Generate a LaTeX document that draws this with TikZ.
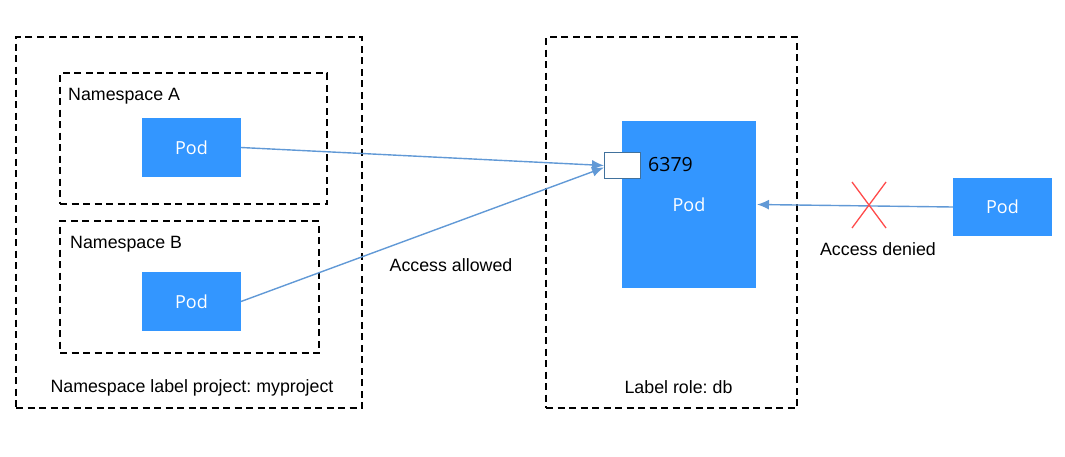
\documentclass[tikz,border=0pt]{standalone}
\usepackage{fontspec}
\setmainfont{Liberation Sans}
\newfontfamily\podfont{Open Sans}
\usetikzlibrary{arrows.meta,calc}
\definecolor{podblue}{HTML}{3396FF}
\definecolor{arrblue}{HTML}{6199D6}
\definecolor{portedge}{HTML}{41719C}
\definecolor{xred}{HTML}{FF4B4B}
\tikzset{
  dbox/.style={draw=black, line width=1.4pt, dash pattern=on 7pt off 4.5pt, rectangle, inner sep=0pt, outer sep=0pt},
  podbox/.style={fill=podblue, draw=none, rectangle, inner sep=0pt, outer sep=0pt, text=white, font=\podfont\fontsize{18}{20}\selectfont},
  lbl/.style={inner sep=0pt, font=\fontsize{17.8}{20}\selectfont},
  arr/.style={draw=arrblue, line width=1.4pt, -{Latex[length=12pt,width=10pt]}},
}
\begin{document}
\frenchspacing
\begin{tikzpicture}[x=1pt,y=-1pt]
\useasboundingbox (0,0) rectangle (1065,456);
% left outer
\node[dbox, minimum width=346, minimum height=371] (outer) at (189,222.5) {};
\node[dbox, minimum width=267, minimum height=131] (nsA) at (193.5,138.5) {};
\node[dbox, minimum width=259, minimum height=132] (nsB) at (189.5,287) {};
\node[lbl, anchor=base west] (nsAlbl) at (68,100) {Namespace A};
\node[lbl, anchor=base west] (nsBlbl) at (70,248) {Namespace B};
\node[lbl, anchor=base] (projlbl) at (192,392.5) {Namespace label project: myproject};
\node[podbox, minimum width=99, minimum height=59] (podA) at (191.5,147.5) {Pod};
\node[podbox, minimum width=99, minimum height=59] (podB) at (191.5,301.5) {Pod};
% right box
\node[dbox, minimum width=251, minimum height=371] (rbox) at (671.5,222.5) {};
\node[podbox, minimum width=134, minimum height=167] (big) at (689,204.5) {};
\node[text=white, inner sep=0pt, font=\podfont\fontsize{18}{20}\selectfont] (bigtxt) at (689,205) {Pod};
\node[draw=portedge, fill=white, line width=1pt, rectangle, minimum width=36, minimum height=26, inner sep=0pt, outer sep=0pt] (port) at (622,165) {};
\node[inner sep=0pt, font=\podfont\fontsize{19.5}{21}\selectfont, anchor=west] (portlbl) at (648,165) {6379};
\node[lbl, anchor=base] (rolelbl) at (678.5,393) {Label role: db};
% right pod
\node[podbox, minimum width=99, minimum height=58] (podR) at (1002.5,207) {Pod};
% arrows
\draw[arr] (podA.east) -- ([yshift=-0.5pt]port.west);
\draw[arr] (podB.east) -- ([yshift=-2.5pt]port.west);
\draw[arr] (podR.west) -- ([xshift=1pt]big.east);
\node[lbl, anchor=base] (allowed) at (451,271.5) {Access allowed};
\node[lbl, anchor=base] (denied) at (878,255) {Access denied};
% red cross
\coordinate (xc) at (869,205);
\draw[xred, line width=1.3pt] ($(xc)+(-17,-23)$) -- ($(xc)+(17,23)$);
\draw[xred, line width=1.3pt] ($(xc)+(17,-23)$) -- ($(xc)+(-17,23)$);
\end{tikzpicture}
\end{document}
